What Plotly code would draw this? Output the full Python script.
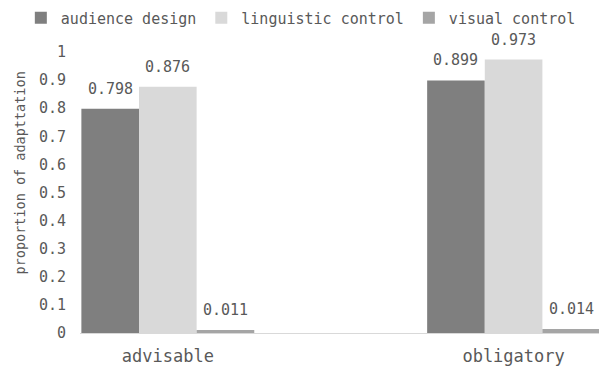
import plotly.graph_objects as go

categories = ["advisable", "obligatory"]
series_names = ["audience design", "linguistic control", "visual control"]
audience_design = [0.798, 0.899]
linguistic_control = [0.876, 0.973]
visual_control = [0.011, 0.014]
series_values = [audience_design, linguistic_control, visual_control]
series_colors = ["#7f7f7f", "#d9d9d9", "#a5a5a5"]

y_ticks = [0, 0.1, 0.2, 0.3, 0.4, 0.5, 0.6, 0.7, 0.8, 0.9, 1]
y_tick_labels = ["0", "0.1", "0.2", "0.3", "0.4", "0.5", "0.6", "0.7", "0.8", "0.9", "1"]

FONT = "DejaVu Sans Mono"
TEXT = "#595959"

fig = go.Figure()
for name, vals, col in zip(series_names, series_values, series_colors):
    fig.add_trace(go.Bar(x=categories, y=vals, name=name, marker_color=col,
                         marker_line_width=0))

# value labels above each bar, placed at the grouped bar offsets
n = len(series_names)
group_width = 0.5
bar_w = group_width / n
annotations = []
for i, vals in enumerate(series_values):
    off = -group_width / 2 + bar_w * (i + 0.5)
    for j, v in enumerate(vals):
        annotations.append(dict(x=j + off, y=v, xref="x", yref="y",
                                text=f"{v:.3f}", showarrow=False,
                                yanchor="bottom", yshift=9,
                                font=dict(family=FONT, size=15, color=TEXT)))

annotations.append(dict(x=-0.135, y=0.5, xref="paper", yref="paper",
                        text="proportion of adapttation", textangle=-90,
                        showarrow=False, yshift=20,
                        font=dict(family=FONT, size=13.5, color=TEXT)))

fig.update_layout(
    width=599, height=366,
    margin=dict(l=80, r=0, t=52, b=33),
    paper_bgcolor="white", plot_bgcolor="white",
    barmode="group", bargap=0.5, bargroupgap=0,
    font=dict(family=FONT, size=15, color=TEXT),
    annotations=annotations,
    legend=dict(orientation="h", x=-0.114, xanchor="left", y=1.121, yanchor="middle",
                font=dict(family=FONT, size=15, color=TEXT),
                itemwidth=30, traceorder="normal"),
    xaxis=dict(range=[-0.254, 1.247], showgrid=False, showline=True,
               linecolor="#d9d9d9", linewidth=1, ticks="",
               tickfont=dict(family=FONT, size=17, color=TEXT),
               ticklabelstandoff=8, fixedrange=True),
    yaxis=dict(range=[0, 1], tickvals=y_ticks, ticktext=y_tick_labels,
               showgrid=False, zeroline=False, showline=False, ticks="",
               tickfont=dict(family=FONT, size=15, color=TEXT),
               ticklabelstandoff=13, fixedrange=True),
)

fig.write_html("out.html")
